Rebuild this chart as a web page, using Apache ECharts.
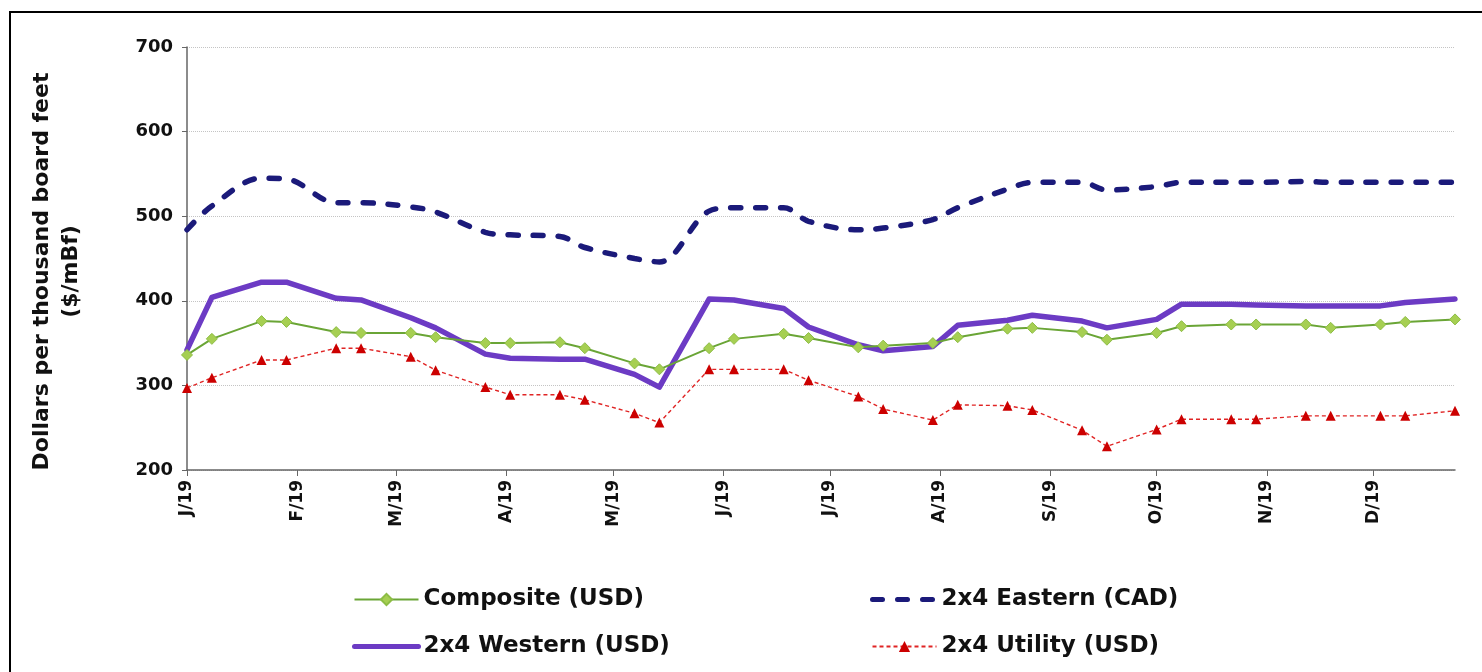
<!DOCTYPE html>
<html>
<head>
<meta charset="utf-8">
<script src="https://cdn.jsdelivr.net/npm/echarts@6/dist/echarts.min.js"></script>
<style>
  html, body { margin: 0; padding: 0; background: #fff; overflow: hidden; }
  #chart { position: absolute; left: 0; top: 0; width: 1482px; height: 672px; }
  #frame { position: absolute; left: 9px; top: 11px; width: 1500px; height: 720px;
           border: 2px solid #000; pointer-events: none; box-sizing: border-box; }
</style>
</head>
<body>
<div id="chart"></div>
<div id="frame"></div>
<script>
// ---- data ----
const dates = ['2019-01-01','2019-01-08','2019-01-22','2019-01-29','2019-02-12','2019-02-19',
  '2019-03-05','2019-03-12','2019-03-26','2019-04-02','2019-04-16','2019-04-23',
  '2019-05-07','2019-05-14','2019-05-28','2019-06-04','2019-06-18','2019-06-25',
  '2019-07-09','2019-07-16','2019-07-30','2019-08-06','2019-08-20','2019-08-27',
  '2019-09-10','2019-09-17','2019-10-01','2019-10-08','2019-10-22','2019-10-29',
  '2019-11-12','2019-11-19','2019-12-03','2019-12-10','2019-12-24'];
const composite = [336,355,376,375,363,362,362,357,350,350,351,344,326,319,344,355,361,356,
  345,347,350,357,367,368,363,354,362,370,372,372,372,368,372,375,378];
const eastern = [484,512,545,544,516,516,511,505,481,478,476,463,450,446,506,510,510,494,
  484,486,496,510,532,540,540,531,535,540,540,540,541,540,540,540,540];
const western = [342,404,422,422,403,401,380,368,337,332,331,331,313,298,402,401,391,369,
  348,341,346,371,377,383,376,368,378,396,396,395,394,394,394,398,402];
const utility = [297,309,330,330,344,344,334,318,298,289,289,283,267,256,319,319,319,306,
  287,272,259,277,276,271,247,228,248,260,260,260,264,264,264,264,270];
const tickDates = ['2019-01-01','2019-02-01','2019-03-01','2019-04-01','2019-05-01','2019-06-01',
  '2019-07-01','2019-08-01','2019-09-01','2019-10-01','2019-11-01','2019-12-01'];
const tickLabels = ['J/19','F/19','M/19','A/19','M/19','J/19','J/19','A/19','S/19','O/19','N/19','D/19'];
const yTicks = { min: 200, max: 700, step: 100 };
const xRange = { start: '2019-01-01', end: '2019-12-24' };
const seriesNames = ['Composite (USD)','2x4 Eastern (CAD)','2x4 Western (USD)','2x4 Utility (USD)'];

// ---- build ----
const dayOf = s => { const [y, m, d] = s.split('-').map(Number);
  return Math.round((Date.UTC(y, m - 1, d) - Date.UTC(2019, 0, 1)) / 86400000); };
const pair = vals => dates.map((d, i) => [dayOf(d), vals[i]]);
const tickDays = tickDates.map(dayOf);
const FONT = 'DejaVu Sans';
const legendText = { fontFamily: FONT, fontWeight: 'bold', fontSize: 23, color: '#111' };

const chart = echarts.init(document.getElementById('chart'), null, { renderer: 'canvas' });
chart.setOption({
  backgroundColor: '#fff',
  animation: false,
  grid: { left: 187, right: 27, top: 47, bottom: 202, containLabel: false },
  xAxis: {
    type: 'value',
    min: dayOf(xRange.start), max: dayOf(xRange.end),
    axisLine: { show: true, lineStyle: { color: '#666', width: 1.5 } },
    axisTick: { show: true, customValues: tickDays, length: 6, lineStyle: { color: '#666' } },
    axisLabel: {
      customValues: tickDays, rotate: 90, margin: 10,
      fontFamily: FONT, fontWeight: 'bold', fontSize: 17, color: '#111',
      formatter: v => tickLabels[tickDays.indexOf(Math.round(v))] || ''
    },
    splitLine: { show: false }
  },
  yAxis: {
    type: 'value', min: yTicks.min, max: yTicks.max, interval: yTicks.step,
    name: 'Dollars per thousand board feet\n($/mBf)',
    nameLocation: 'middle', nameGap: 101, nameRotate: 90,
    nameTextStyle: { fontFamily: FONT, fontWeight: 'bold', fontSize: 22, color: '#111',
      lineHeight: 29, padding: [0, 26, 0, 0] },
    axisLine: { show: true, lineStyle: { color: '#666', width: 1.5 } },
    axisTick: { show: true, length: 5, lineStyle: { color: '#666' } },
    axisLabel: { fontFamily: FONT, fontWeight: 'bold', fontSize: 18, color: '#111', margin: 14 },
    splitLine: { show: true, lineStyle: { color: '#c4c4c4', type: 'dotted', width: 1 } }
  },
  legend: [
    { data: [seriesNames[0],
             { name: seriesNames[2], itemStyle: { opacity: 0 }, lineStyle: { width: 5 } }],
      orient: 'vertical', left: 352, top: 588,
      itemWidth: 64, itemHeight: 14, itemGap: 24, padding: 0, textStyle: legendText },
    { data: [{ name: seriesNames[1], itemStyle: { opacity: 0 }, lineStyle: { width: 5 } },
             seriesNames[3]],
      orient: 'vertical', left: 870, top: 588,
      itemWidth: 64, itemHeight: 14, itemGap: 24, padding: 0, textStyle: legendText }
  ],
  series: [
    { name: seriesNames[0], type: 'line', data: pair(composite), z: 4,
      lineStyle: { color: '#6aa536', width: 2 },
      itemStyle: { color: '#a6cf52', borderColor: '#8dbd45', borderWidth: 1 },
      symbol: 'diamond', symbolSize: 11 },
    { name: seriesNames[1], type: 'line', data: pair(eastern), z: 3, smooth: 0.35,
      lineStyle: { color: '#1b1a7a', width: 5.5, type: [10, 15], cap: 'round' },
      itemStyle: { color: '#1b1a7a' }, symbol: 'none', showSymbol: false },
    { name: seriesNames[2], type: 'line', data: pair(western), z: 2,
      lineStyle: { color: '#6c3bc4', width: 5.5, join: 'round', cap: 'round' },
      itemStyle: { color: '#6c3bc4' }, symbol: 'none', showSymbol: false },
    { name: seriesNames[3], type: 'line', data: pair(utility), z: 5,
      lineStyle: { color: '#e02424', width: 1.4, type: [4, 3] },
      itemStyle: { color: '#cc0000' },
      symbol: 'triangle', symbolSize: 10 }
  ]
});
</script>
</body>
</html>
